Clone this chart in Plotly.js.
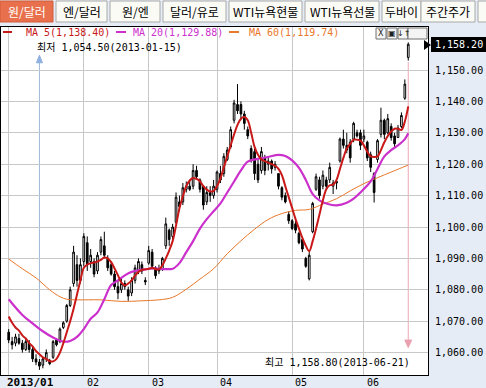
<!DOCTYPE html>
<html><head><meta charset="utf-8">
<script src="https://cdn.plot.ly/plotly-3.0.1.min.js"></script>
<style>html,body{margin:0;padding:0;background:#e6ecf6;}#chart{width:486px;height:388px;}</style>
</head><body><div id="chart"></div>
<script>
// ---- data (USD/KRW daily, 2013-01-02 .. 2013-06-21) ----
const dates = [
"2013-01-02","2013-01-03","2013-01-04","2013-01-07","2013-01-08","2013-01-09","2013-01-10","2013-01-11","2013-01-14","2013-01-15","2013-01-16","2013-01-17","2013-01-18","2013-01-21","2013-01-22","2013-01-23","2013-01-24","2013-01-25","2013-01-28","2013-01-29","2013-01-30","2013-01-31",
"2013-02-01","2013-02-04","2013-02-05","2013-02-06","2013-02-07","2013-02-08","2013-02-12","2013-02-13","2013-02-14","2013-02-15","2013-02-18","2013-02-19","2013-02-20","2013-02-21","2013-02-22","2013-02-25","2013-02-26","2013-02-27","2013-02-28",
"2013-03-04","2013-03-05","2013-03-06","2013-03-07","2013-03-08","2013-03-11","2013-03-12","2013-03-13","2013-03-14","2013-03-15","2013-03-18","2013-03-19","2013-03-20","2013-03-21","2013-03-22","2013-03-25","2013-03-26","2013-03-27","2013-03-28","2013-03-29",
"2013-04-01","2013-04-02","2013-04-03","2013-04-04","2013-04-05","2013-04-08","2013-04-09","2013-04-10","2013-04-11","2013-04-12","2013-04-15","2013-04-16","2013-04-17","2013-04-18","2013-04-19","2013-04-22","2013-04-23","2013-04-24","2013-04-25","2013-04-26","2013-04-29","2013-04-30",
"2013-05-02","2013-05-03","2013-05-06","2013-05-07","2013-05-08","2013-05-09","2013-05-10","2013-05-13","2013-05-14","2013-05-15","2013-05-16","2013-05-20","2013-05-21","2013-05-22","2013-05-23","2013-05-24","2013-05-27","2013-05-28","2013-05-29","2013-05-30","2013-05-31",
"2013-06-03","2013-06-04","2013-06-05","2013-06-07","2013-06-10","2013-06-11","2013-06-12","2013-06-13","2013-06-14","2013-06-17","2013-06-18","2013-06-19","2013-06-20","2013-06-21"];

const openP = [1066.5,1063.5,1063,1064.5,1063,1061,1063,1061,1058,1057,1056,1058,1057.5,1058.5,1064,1063.5,1068,1070,1075,1082,1088,1083,
1089,1095,1089,1089,1086,1092,1094,1090,1088,1085,1081,1080,1082,1080,1079,1083,1086,1088,1083,
1088.5,1092,1087,1086,1086.5,1094,1099,1097,1101.5,1108,1108,1112,1113,1113,1118,1115,1113,1108,1111,1110,
1112,1117,1117,1121.5,1125.5,1134,1139,1139,1136,1131,1125,1124,1120,1118,1122,1120,1121,1119,1117,1112.5,1110,1104,
1102,1101,1098,1096,1090,1083.5,1098.5,1112,1115,1113,1115,1115,1113,1114,1121,1128,1126,1127,1128,1130,1130,
1128,1127,1123,1117,1121.5,1129.5,1134,1130,1132,1129,1128.5,1132,1141,1154];
const highP = [1067.5,1065,1066,1066,1064,1064.5,1064,1062,1059.5,1058,1058.5,1061,1058,1064,1064.5,1068,1070,1075.5,1081,1094,1091,1090,
1098,1097,1093,1090,1092,1097,1098.5,1091,1089,1086,1083,1084,1083,1081,1084,1088,1090,1089,1084,
1094,1093,1087.5,1088,1090.5,1103,1099.5,1101,1111,1110,1114,1114.5,1115,1120,1119.5,1115.5,1113,1113,1113,1115,
1118,1119.5,1123.5,1125.5,1132,1140.5,1145.5,1140,1137,1132,1126,1125,1121.5,1125.5,1123,1122.5,1121.5,1121,1117,1113,1111,1105,
1102.5,1102.5,1098.5,1096,1090.5,1092,1108,1117,1116,1118,1116,1120.5,1115,1115,1128.5,1131,1130,1128,1133.5,1131,1131,
1131,1127.5,1124,1117.5,1128,1138,1134.5,1136,1133,1130,1132.5,1136.5,1147,1158.8];
const lowP = [1063,1061,1062,1062.5,1060,1060.5,1060,1057,1056,1054.5,1055,1057,1056,1058,1062,1063,1067.5,1069.5,1074.5,1081,1081,1082,
1087.5,1086,1087,1084,1085,1091,1090,1086,1084.5,1080,1077,1079,1080,1076.5,1078,1082,1085,1085,1081.5,
1088,1086.5,1083.5,1085,1086,1093,1094,1096,1101,1105,1107,1111,1111.5,1112,1115,1111,1105.5,1107,1108,1109,
1111,1114,1116,1121,1125,1133,1136,1134,1131,1128,1120.5,1115,1114,1117,1116.5,1118,1117,1118,1112,1108.5,1107.5,1101,
1099,1098,1094.5,1092,1087,1083,1098,1111.5,1109,1112,1112,1114,1110.5,1112,1120.5,1125,1123.5,1120.5,1127,1128.5,1124.5,
1127,1121,1117.5,1107.8,1120.5,1128.5,1128,1129.5,1127.5,1125.5,1128.5,1131.5,1140.5,1153];
const closeP = [1064,1062.5,1065,1063,1061,1063.5,1061,1058,1057,1055.7,1058,1060,1056.5,1063.5,1062.5,1067.5,1069.5,1075,1080,1092,1083,1088,
1097,1088,1091,1085,1091,1096,1091,1087,1085,1081,1079,1082,1081,1078,1083,1087,1089,1086,1082.5,
1092.5,1087.5,1084.5,1086.5,1090,1101,1096,1100,1109.5,1106.5,1112.5,1113,1112,1118,1116,1112,1107,1111,1110,1113,
1117.5,1115,1122.5,1124.5,1131,1139.5,1137,1136,1133,1129,1121.5,1117,1115,1124,1118,1121,1118.5,1120,1113,1109.5,1108,1102,
1099.5,1099,1095,1093,1087.5,1091,1107.5,1116,1110,1116.5,1113,1119,1114,1114.5,1128,1126,1124.5,1122,1133,1129,1126,
1129,1122,1119,1111,1127.5,1134,1129.5,1134.5,1128.5,1126.5,1131.5,1135.5,1145.5,1158.2];

// moving averages
const ma5 = [1071.5,1069.5,1068,1067,1065.5,1064.5,1063,1062,1060.5,1059.5,1058.5,1058,1057.3,1057.2,1058,1060,1063,1066.5,1070,1074,1078.5,1083,
1087,1088,1088.5,1088.7,1089,1089.5,1090.3,1090,1088.8,1086.8,1084.6,1082.3,1081.4,1082,1083,1084.5,1085.7,1086.3,1086.5,
1086.7,1087,1086.6,1086.5,1087.8,1090,1092.5,1095.5,1100.5,1106,1109.8,1113,1114.8,1115.6,1115.3,1114.6,1113,1111.9,1111.3,1111.5,
1113,1115.5,1119,1122.5,1126,1129.5,1132.5,1134.5,1135,1134,1130,1125.5,1123,1121.5,1121,1120.5,1120,1119.5,1118.5,1116.5,1113,1109.5,
1106,1102.5,1099.5,1096.5,1094,1092.3,1095.5,1099.5,1104,1108.5,1112,1113.3,1113.5,1115,1118.5,1122,1125,1126.5,1127.8,1127.8,1127.5,
1126,1124,1122.5,1122.3,1122.5,1124.5,1127,1129,1130.4,1131.3,1131.3,1130.9,1133.6,1138.4];
const ma20Idx = [0,4,7,10,13,16,18,20,22,24,26,28,30,32,34,36,38,40,42,44,46,48,50,52,54,56,58,60,62,64,66,68,70,73,76,79,81,83,85,87,89,91,93,96,99,101,103,106,108,110,112,114,116,117];
const ma20 = [1077,1072,1069.3,1066.8,1064.8,1063.5,1063.7,1065,1067.5,1070.8,1072.8,1077,1081.5,1083,1084.6,1085.7,1086.2,1086.5,1086.8,1086.7,1086.6,1086.7,1088.5,1092,1095.5,1099.5,1102.5,1105,1107.5,1111,1114.5,1118,1120.8,1121.7,1122.3,1123,1122.6,1121.2,1118.8,1115,1110.5,1108.5,1107.5,1106.9,1107.7,1109,1111,1114.5,1118.5,1122.5,1124.5,1126,1128,1129.88];
const ma60Idx = [0,4,8,12,15,17,20,27,33,39,44,48,52,56,60,64,68,72,76,80,84,88,92,96,100,104,108,112,117];
const ma60 = [1089.8,1086.7,1083.8,1080,1077.8,1077,1076.8,1076.8,1076.3,1076.5,1076.8,1077.6,1080.2,1083.4,1086.7,1091.5,1095.6,1099.3,1102.4,1104.3,1105.3,1105.6,1107.3,1109,1111.5,1113.8,1115.7,1117.5,1119.74];

const maNames = ["MA 5","MA 20","MA 60"];
const maColors = ["#c81818","#cc30cc","#e8782a"];
const tabLabels = ["원/달러","엔/달러","원/엔","달러/유로","WTI뉴욕현물","WTI뉴욕선물","두바이","주간주가",""];
const yTicks = [1060,1070,1080,1090,1100,1110,1120,1130,1140,1150];
const monthLabels = ["2013/01","02","03","04","05","06"];

// ---- helpers ----
const idx = dates.map((d,i)=>i);
const fmt = v => v.toLocaleString('en-US',{minimumFractionDigits:2,maximumFractionDigits:2});
const monthStarts = [];
dates.forEach((d,i)=>{ if(i===0 || d.slice(5,7)!==dates[i-1].slice(5,7)) monthStarts.push(i); });
// plot area in pixels: x 1..428, y 27..375
const PL=1, PR=428, PT=27, PB=375;
const px = p => (p-PL)/(PR-PL);
const py = p => (PB-p)/(PB-PT);
const MONO = "'DejaVu Sans Mono', 'Noto Sans CJK KR', monospace";
const KR = "'Noto Sans CJK KR', 'DejaVu Sans', sans-serif";

let lowI = 0, highI = 0;
lowP.forEach((v,i)=>{ if(v<lowP[lowI]) lowI=i; });
highP.forEach((v,i)=>{ if(v>highP[highI]) highI=i; });

const traces = [
  {type:'candlestick', x: idx, open: openP, high: highP, low: lowP, close: closeP,
   increasing:{line:{color:'#000000',width:1}, fillcolor:'#ffffff'},
   decreasing:{line:{color:'#000000',width:1}, fillcolor:'#000000'},
   whiskerwidth:0, hoverinfo:'skip'},
  {type:'scatter', mode:'lines', x: ma60Idx, y: ma60, line:{color:maColors[2], width:1, shape:'spline', smoothing:1}, hoverinfo:'skip'},
  {type:'scatter', mode:'lines', x: ma20Idx, y: ma20, line:{color:maColors[1], width:2.2, shape:'spline', smoothing:1}, hoverinfo:'skip'},
  {type:'scatter', mode:'lines', x: idx, y: ma5, line:{color:maColors[0], width:2, shape:'spline', smoothing:1}, hoverinfo:'skip'}
];

const shapes = [];
const annotations = [];

// tabs
const tabX = [[0,53],[56,107],[110,160],[163,226],[229,302],[305,379],[382,421],[421,475],[478,492]];
tabX.forEach((t,k)=>{
  shapes.push({type:'rect', xref:'paper', yref:'paper', x0:px(t[0]), x1:px(t[1]), y0:py(22), y1:py(1),
    fillcolor: k===0 ? '#e8704c' : '#fbfbf6', line:{color: k===0 ? '#d05a38' : '#a8a8a8', width:1}, layer:'above'});
  if (tabLabels[k]) annotations.push({xref:'paper', yref:'paper', x:px((t[0]+t[1])/2), y:py(11.5), text:tabLabels[k],
    showarrow:false, xanchor:'center', yanchor:'middle', font:{family:KR, size:12, color: k===0 ? '#ffffff' : '#000000'}});
});

// legend row
const lastMA = [ma5[ma5.length-1], ma20[ma20.length-1], ma60[ma60.length-1]];
const legDash = [[3,12],[116,126],[229,239]];
const legText = [24,131,247];
for (let k=0;k<3;k++){
  shapes.push({type:'line', xref:'paper', yref:'paper', x0:px(legDash[k][0]), x1:px(legDash[k][1]), y0:py(32), y1:py(32),
    line:{color:maColors[k], width:2}});
  annotations.push({xref:'paper', yref:'paper', x:px(legText[k]), y:py(32), text:maNames[k]+'('+fmt(lastMA[k])+')',
    showarrow:false, xanchor:'left', yanchor:'middle', font:{family:MONO, size:10, color:maColors[k]}});
}

// icons top right
[[376,386,'X'],[387,397,'▣'],[398,408,'↓↑'],[408,427,'']].forEach(b=>{
  shapes.push({type:'rect', xref:'paper', yref:'paper', x0:px(b[0]), x1:px(b[1]), y0:py(39), y1:py(28),
    fillcolor:'#f4f4f4', line:{color:'#707070', width:1}});
  if (b[2]) annotations.push({xref:'paper', yref:'paper', x:px((b[0]+b[1])/2), y:py(33.5), text:b[2], showarrow:false,
    xanchor:'center', yanchor:'middle', font:{family:'DejaVu Sans', size:8, color:'#202020'}});
});

// low marker
annotations.push({xref:'paper', yref:'paper', x:px(35), y:py(48), text:'최저 '+fmt(lowP[lowI])+'('+dates[lowI]+')',
  showarrow:false, xanchor:'left', yanchor:'middle', font:{family:MONO, size:10, color:'#000000'}});
shapes.push({type:'line', xref:'x', yref:'y', x0:lowI, x1:lowI, y0:highP[lowI]+0.3, y1:1152.5, line:{color:'#9fb7d8', width:1}, layer:'below'});
shapes.push({type:'path', xref:'x', yref:'y', path:`M ${lowI-0.9},1152.3 L ${lowI+0.9},1152.3 L ${lowI},1154.7 Z`, fillcolor:'#8fb0e0', line:{color:'#8fb0e0',width:1}});

// high marker
annotations.push({xref:'paper', yref:'paper', x:px(263), y:py(362), text:'최고 '+fmt(highP[highI])+'('+dates[highI]+')',
  showarrow:false, xanchor:'left', yanchor:'middle', font:{family:MONO, size:10, color:'#000000'}});
shapes.push({type:'line', xref:'x', yref:'y', x0:highI, x1:highI, y0:lowP[highI]-0.5, y1:1064, line:{color:'#eda8b4', width:1}, layer:'below'});
shapes.push({type:'path', xref:'x', yref:'y', path:`M ${highI-1},1064 L ${highI+1},1064 L ${highI},1061.6 Z`, fillcolor:'#eaa0ae', line:{color:'#eaa0ae',width:1}});

// current price tag
shapes.push({type:'rect', xref:'paper', yref:'paper', x0:px(431), x1:px(486), y0:py(52), y1:py(37), fillcolor:'#000000', line:{width:0}});
shapes.push({type:'path', xref:'paper', yref:'paper', path:`M ${px(424)},${py(40)} L ${px(431)},${py(45)} L ${px(424)},${py(50)} Z`, fillcolor:'#000000', line:{width:0}});
annotations.push({xref:'paper', yref:'paper', x:px(458.5), y:py(44.5), text:fmt(closeP[closeP.length-1]), showarrow:false,
  xanchor:'center', yanchor:'middle', font:{family:MONO, size:10, color:'#ffffff'}});

// month labels
monthStarts.forEach((m,k)=>{
  annotations.push({xref:'x', yref:'paper', x:m, y:py(382), text: k===0 ? '<b>'+monthLabels[k]+'</b>' : monthLabels[k],
    showarrow:false, xanchor:'left', yanchor:'middle', xshift: k===0 ? -4 : 1,
    font:{family:MONO, size: k===0 ? 11 : 10, color:'#000000'}});
});

const layout = {
  width:486, height:388,
  margin:{l:PL, r:486-PR, t:PT, b:388-PB, pad:0},
  paper_bgcolor:'#e6ecf6', plot_bgcolor:'#ffffff',
  showlegend:false, hovermode:false,
  xaxis:{range:[(PL-8.7)/3.415,(PR-8.7)/3.415], tickvals:monthStarts, showticklabels:false, ticks:'',
    showgrid:true, gridcolor:'#c8c8c8', gridwidth:1, zeroline:false,
    showline:true, linecolor:'#000000', linewidth:1, mirror:true, rangeslider:{visible:false}, fixedrange:true},
  yaxis:{side:'right', range:[1150-(PB-70)/3.14, 1150+(70-PT)/3.14], tickvals:yTicks, tickformat:',.2f',
    ticks:'', ticklabelstandoff:4, tickfont:{family:MONO, size:10, color:'#000000'},
    showgrid:true, gridcolor:'#c8c8c8', gridwidth:1, zeroline:false,
    showline:true, linecolor:'#000000', linewidth:1, mirror:true, fixedrange:true},
  shapes:shapes, annotations:annotations
};

Plotly.newPlot('chart', traces, layout, {staticPlot:true, displayModeBar:false});
</script>
</body></html>
